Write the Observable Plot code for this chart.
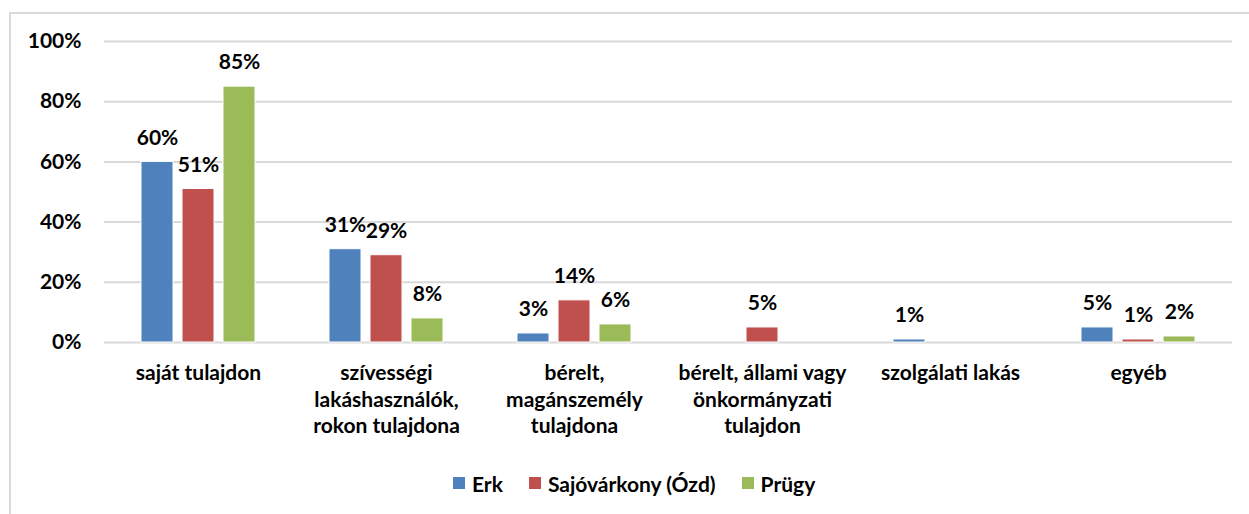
<!DOCTYPE html>
<html>
<head>
<meta charset="utf-8">
<script src="https://cdn.jsdelivr.net/npm/d3@7"></script>
<script src="https://cdn.jsdelivr.net/npm/@observablehq/plot@0.6"></script>
<style>
  html, body { margin: 0; padding: 0; background: #fff; }
  body { position: relative; width: 1249px; height: 514px; overflow: hidden; font-family: Lato, "Open Sans", sans-serif; font-weight: bold; }
  #frame { position: absolute; left: 9px; top: 12px; width: 1260px; height: 520px; border-left: 2px solid #d9d9d9; border-top: 2px solid #d9d9d9; box-sizing: border-box; }
  #chart { position: absolute; left: 0; top: 0; }
  #legend { position: absolute; left: 453px; top: 470px; height: 26px; display: flex; align-items: center; font-size: 21px; color: #000; }
  .item { display: flex; align-items: center; margin-right: 26px; }
  .sw { width: 12px; height: 12px; margin-right: 7px; }
</style>
</head>
<body>
<div id="frame"></div>
<div id="chart"></div>
<div id="legend"></div>
<script>
const categories = ["saját tulajdon", "szívességi lakáshasználók, rokon tulajdona", "bérelt, magánszemély tulajdona", "bérelt, állami vagy önkormányzati tulajdon", "szolgálati lakás", "egyéb"];
const categoryLabels = ["saját tulajdon", "szívességi\nlakáshasználók,\nrokon tulajdona", "bérelt,\nmagánszemély\ntulajdona", "bérelt, állami vagy\nönkormányzati\ntulajdon", "szolgálati lakás", "egyéb"];
const series = ["Erk", "Sajóvárkony (Ózd)", "Prügy"];
const colors = ["#4F81BD", "#C0504D", "#9BBB59"];
const erk = [60, 31, 3, null, 1, 5];
const sajovarkony = [51, 29, 14, 5, null, 1];
const prugy = [85, 8, 6, null, null, 2];
const yTicks = [0, 20, 40, 60, 80, 100];

const values = [erk, sajovarkony, prugy];
const data = [];
categories.forEach((c, i) => {
  series.forEach((s, j) => {
    const v = values[j][i];
    if (v != null) data.push({category: c, series: s, value: v});
  });
});
const labelOf = new Map(categories.map((c, i) => [c, categoryLabels[i]]));

const font = "Lato, 'Open Sans', sans-serif";
const chart = Plot.plot({
  width: 1249,
  height: 460,
  marginLeft: 103,
  marginRight: 16,
  marginTop: 41,
  marginBottom: 118,
  style: {fontFamily: font, fontWeight: "bold", fontSize: "21px", color: "#000", background: "transparent"},
  fx: {domain: categories, padding: 0, axis: null},
  x: {domain: series, paddingInner: 0.214, paddingOuter: 0.85, axis: null},
  y: {domain: [0, 100], axis: null},
  color: {domain: series, range: colors},
  marks: [
    Plot.gridY(yTicks, {stroke: "#d9d9d9", strokeOpacity: 1, strokeWidth: 2}),
    Plot.axisY({ticks: yTicks, label: null, tickSize: 0, tickPadding: 23, tickFormat: d => d + "%", fontSize: 21, fontWeight: "bold", fill: "#000"}),
    Plot.barY(data, {fx: "category", x: "series", y: "value", fill: "series", stroke: "#fff", strokeWidth: 1}),
    Plot.text(data, {fx: "category", x: "series", y: "value", text: d => d.value + "%", dy: -24, fontSize: 21, fontWeight: "bold", fill: "#000"}),
    Plot.text(categories, {fx: d => d, text: d => labelOf.get(d), frameAnchor: "bottom", lineAnchor: "top", dy: 19, lineHeight: 1.26, fontSize: 21, fontWeight: "bold", fill: "#000"})
  ]
});
document.getElementById("chart").appendChild(chart);

const legend = document.getElementById("legend");
series.forEach((s, i) => {
  const item = document.createElement("div");
  item.className = "item";
  const sw = document.createElement("div");
  sw.className = "sw";
  sw.style.background = colors[i];
  const t = document.createElement("span");
  t.textContent = s;
  item.appendChild(sw);
  item.appendChild(t);
  legend.appendChild(item);
});
</script>
</body>
</html>
